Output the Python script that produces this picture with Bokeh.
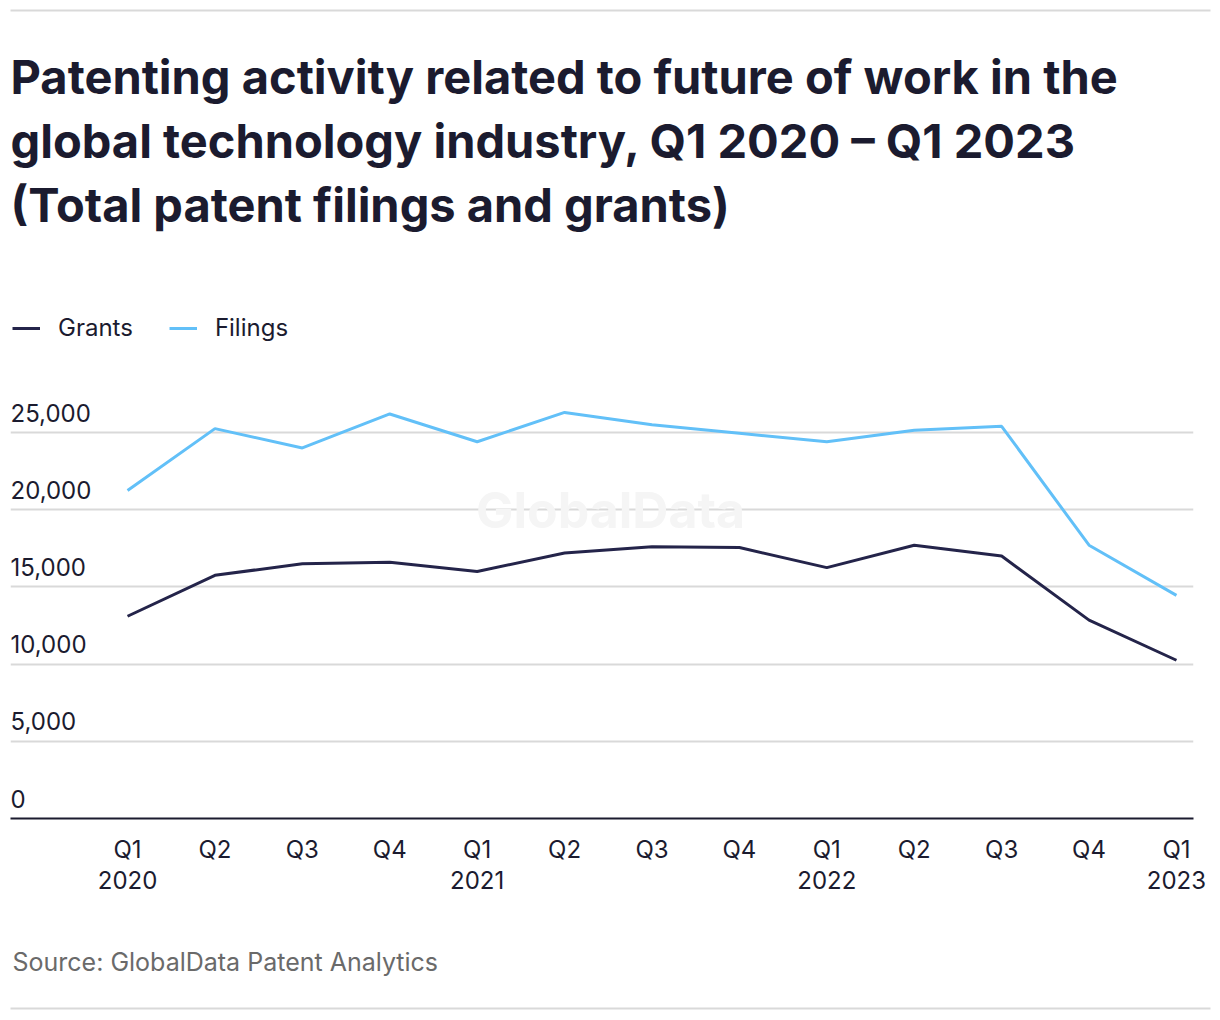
from bokeh.plotting import figure
from bokeh.layouts import column, row
from bokeh.models import (Range1d, FixedTicker, Grid, Label, LabelSet, ColumnDataSource,
                          Legend, LegendItem, BoxAnnotation)
from bokeh.core.properties import value
from bokeh.embed import file_html
from bokeh.resources import INLINE

# ---- data ----
quarters = ["Q1\n2020", "Q2", "Q3", "Q4", "Q1\n2021", "Q2", "Q3", "Q4",
            "Q1\n2022", "Q2", "Q3", "Q4", "Q1\n2023"]
grants = [13100, 15750, 16500, 16600, 16000, 17200, 17600, 17550,
          16250, 17700, 17000, 12850, 10250]
filings = [21250, 25250, 24000, 26200, 24400, 26300, 25500, 24950,
           24400, 25150, 25400, 17700, 14450]
y_ticks = [0, 5000, 10000, 15000, 20000, 25000]
y_tick_labels = ["0", "5,000", "10,000", "15,000", "20,000", "25,000"]
title_lines = ["Patenting activity related to future of work in the",
               "global technology industry, Q1 2020 \u2013 Q1 2023",
               "(Total patent filings and grants)"]
source_text = "Source: GlobalData Patent Analytics"

DARK = "#1b1b2f"
GRANTS_C = "#24244a"
FILINGS_C = "#62c0f8"
GRID_C = "#d9d9d9"
FONT = "Inter"
W = 1220


def blank(height):
    f = figure(width=W, height=height, output_backend="svg", toolbar_location=None,
               x_range=Range1d(0, W), y_range=Range1d(0, height),
               x_axis_location=None, y_axis_location=None,
               min_border=0, min_border_left=0, min_border_right=0,
               min_border_top=0, min_border_bottom=0)
    f.outline_line_color = None
    f.xgrid.visible = False
    f.ygrid.visible = False
    return f


# ---- header ----
HH = 300
head = blank(HH)
head.add_layout(BoxAnnotation(left=10, right=1210, bottom=HH - 11, top=HH - 9,
                              fill_color=GRID_C, fill_alpha=1, line_color=None))
for i, line in enumerate(title_lines):
    head.add_layout(Label(x=10, y=HH - (96 + 64 * i) + 20, text=line, text_font=FONT,
                          text_font_style="bold", text_font_size="47px",
                          text_color=DARK, text_baseline="alphabetic"))

# ---- main chart ----
MT = 300   # page y of main figure top
MH = 640
x = list(range(len(quarters)))
p = figure(width=W, height=MH, output_backend="svg", toolbar_location=None,
           x_range=Range1d(-1.339, 12.195), y_range=Range1d(0, 32837),
           y_axis_location=None, min_border_left=10, min_border_right=W - 1193,
           min_border_top=311 - MT, min_border_bottom=MT + MH - 818)
p.outline_line_color = None
p.xgrid.visible = False
p.ygrid.visible = False

ax = p.xaxis[0]
ax.ticker = FixedTicker(ticks=x)
ax.major_label_overrides = {i: q for i, q in enumerate(quarters)}
ax.major_tick_line_color = None
ax.minor_tick_line_color = None
ax.axis_line_color = DARK
ax.axis_line_width = 2
ax.major_label_text_font = FONT
ax.major_label_text_font_size = "24px"
ax.major_label_text_color = DARK
ax.major_label_text_line_height = 1.07
ax.major_label_standoff = 10

p.add_layout(Grid(dimension=1, ticker=FixedTicker(ticks=y_ticks),
                  grid_line_color=GRID_C, grid_line_width=2))

# watermark
p.add_layout(Label(x=610 - 10, y=818 - 509, x_units="screen", y_units="screen",
                   text="GlobalData", text_font=FONT, text_font_style="bold",
                   text_font_size="50px", text_color="#f5f5f5",
                   text_align="center", text_baseline="middle"))

r1 = p.line(x, grants, line_color=GRANTS_C, line_width=3)
r2 = p.line(x, filings, line_color=FILINGS_C, line_width=3)

legend = Legend(items=[LegendItem(label="Grants", renderers=[r1]),
                       LegendItem(label="Filings", renderers=[r2])],
                orientation="horizontal", location="top_left", margin=2, padding=0,
                glyph_width=28, label_standoff=18, spacing=36,
                label_text_font=FONT, label_text_font_size="24px",
                label_text_color=DARK, border_line_color=None,
                background_fill_alpha=0)
p.add_layout(legend)

ysrc = ColumnDataSource(dict(y=y_ticks, t=y_tick_labels))
p.add_layout(LabelSet(x=0, y="y", text="t", source=ysrc, x_units="screen",
                      y_offset=11, text_font=value(FONT), text_font_size=value("24px"),
                      text_color=DARK, text_baseline="alphabetic"))

# ---- footer ----
FB = MT + MH
FH = 1020 - FB
foot = blank(FH)
foot.add_layout(Label(x=12, y=FH - (970 - FB) + 9, text=source_text, text_font=FONT,
                      text_font_size="25px", text_color="#6a6a6a",
                      text_baseline="alphabetic"))
foot.add_layout(BoxAnnotation(left=10, right=1210, bottom=FH - (1008 - FB) - 1,
                              top=FH - (1008 - FB) + 1,
                              fill_color=GRID_C, fill_alpha=1, line_color=None))

layout = column(row(head), p, row(foot), spacing=0)
open("out.html", "w").write(file_html(layout, INLINE))
